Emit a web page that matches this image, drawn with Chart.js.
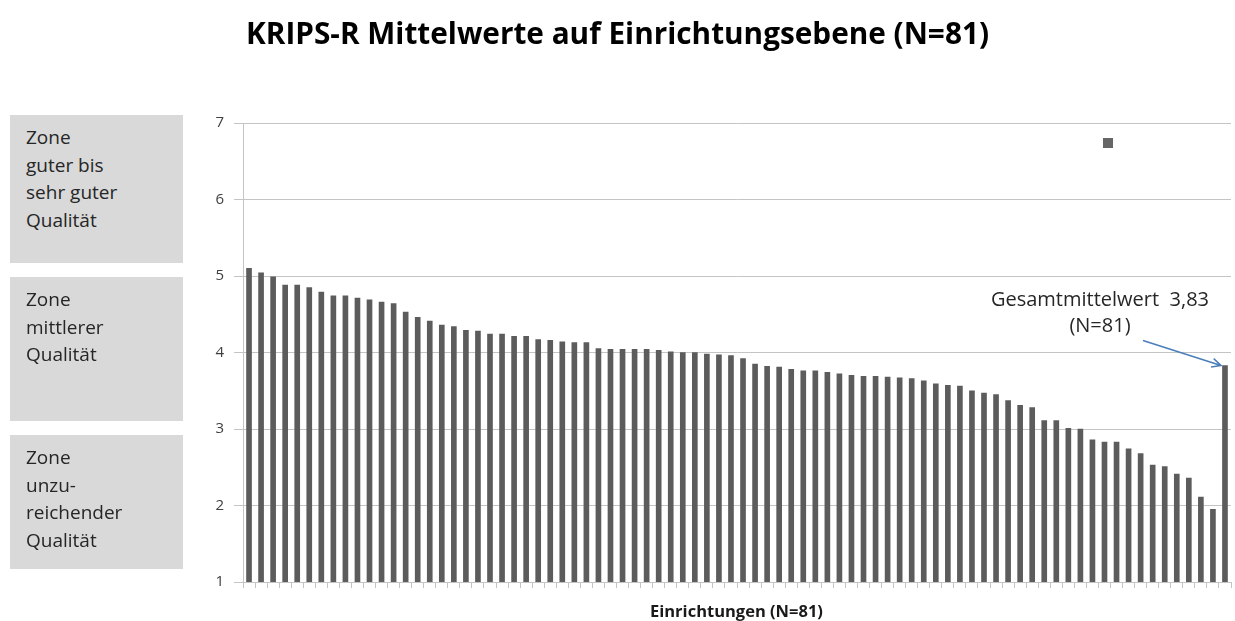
<!DOCTYPE html>
<html>
<head>
<meta charset="utf-8">
<title>KRIPS-R Mittelwerte</title>
<script src="https://cdn.jsdelivr.net/npm/chart.js@4.4.1/dist/chart.umd.min.js"></script>
<style>
  html, body { margin: 0; padding: 0; background: #fff; }
  body { width: 1235px; height: 621px; position: relative; overflow: hidden; font-family: "Open Sans", sans-serif; }
  #chart { position: absolute; left: 0; top: 0; }
  #titel { position: absolute; left: 0; width: 1235px; text-align: center; margin: 0; font-weight: 700; line-height: 1; color: #000; white-space: nowrap; }
  #titel span { display: inline-block; }
  #xTitel { position: absolute; left: 650px; font-weight: 700; font-size: 16.5px; line-height: 1; color: #1a1a1a; white-space: nowrap; }
  .zone { position: absolute; left: 10px; width: 157px; padding: 8.8px 0 0 16px; box-sizing: content-box;
          background: #d9d9d9; color: #262626; font-size: 19px; line-height: 27.7px; }
</style>
</head>
<body>
<canvas id="chart" width="1235" height="621"></canvas>
<h1 id="titel"><span>KRIPS-R Mittelwerte auf Einrichtungsebene (N=81)</span></h1>
<div class="zone" style="top:115px;height:139.2px">Zone<br>guter bis<br>sehr guter<br>Qualität</div>
<div class="zone" style="top:277px;height:135.2px">Zone<br>mittlerer<br>Qualität</div>
<div class="zone" style="top:435px;height:125.2px">Zone<br>unzu-<br>reichender<br>Qualität</div>
<div id="xTitel">Einrichtungen (N=81)</div>
<script>
// Mittelwerte der 81 Einrichtungen, absteigend sortiert
const mittelwerte = [
  5.10, 5.04, 4.99, 4.88, 4.88, 4.85, 4.79, 4.74, 4.74, 4.71,
  4.69, 4.66, 4.64, 4.53, 4.46, 4.41, 4.36, 4.34, 4.29, 4.28,
  4.24, 4.24, 4.21, 4.21, 4.17, 4.16, 4.14, 4.13, 4.13, 4.05,
  4.04, 4.04, 4.04, 4.04, 4.03, 4.01, 4.00, 4.00, 3.98, 3.97,
  3.96, 3.92, 3.85, 3.82, 3.81, 3.78, 3.76, 3.76, 3.74, 3.72,
  3.70, 3.69, 3.69, 3.68, 3.67, 3.66, 3.63, 3.59, 3.57, 3.56,
  3.50, 3.47, 3.45, 3.37, 3.31, 3.28, 3.11, 3.11, 3.01, 3.00,
  2.86, 2.83, 2.83, 2.74, 2.68, 2.53, 2.51, 2.41, 2.36, 2.11,
  1.95
];
const gesamtmittelwert = 3.83;
const einrichtungen = mittelwerte.map((_, i) => 'Einrichtung ' + (i + 1));
const kategorien = [...einrichtungen, 'Gesamt'];
const yTicks = [1, 2, 3, 4, 5, 6, 7];

const gridGrau = '#c4c4c4';

// title: fit Open Sans to the width of the original heading
(function () {
  const t = document.getElementById('titel');
  const span = t.querySelector('span');
  let fs = 30;
  t.style.fontSize = fs + 'px';
  fs = fs * 743 / span.offsetWidth;
  t.style.fontSize = fs + 'px';
  t.style.top = (44 - 0.888 * fs) + 'px';
  document.getElementById('xTitel').style.top = (618 - 0.888 * 16.5) + 'px';
})();

// Hinweis auf den Gesamtmittelwert + einzelnes Legendenquadrat
const hinweisPlugin = {
  id: 'gesamtHinweis',
  afterDatasetsDraw(chart) {
    const { ctx, chartArea } = chart;
    const bar = chart.getDatasetMeta(0).data[kategorien.length - 1];
    ctx.save();
    ctx.font = '20px "Open Sans"';
    ctx.fillStyle = '#262626';
    ctx.textAlign = 'center';
    ctx.fillText('Gesamtmittelwert  3,83', bar.x - 125, bar.y - 60);
    ctx.fillText('(N=81)', bar.x - 125, bar.y - 34);

    // arrow
    const x0 = bar.x - 82, y0 = bar.y - 25;
    const x1 = bar.x - 4, y1 = bar.y;
    const ang = Math.atan2(y1 - y0, x1 - x0);
    ctx.strokeStyle = '#4a7ebb';
    ctx.lineWidth = 1.5;
    ctx.beginPath();
    ctx.moveTo(x0, y0);
    ctx.lineTo(x1, y1);
    ctx.moveTo(x1 - 10 * Math.cos(ang - 0.45), y1 - 10 * Math.sin(ang - 0.45));
    ctx.lineTo(x1, y1);
    ctx.lineTo(x1 - 10 * Math.cos(ang + 0.45), y1 - 10 * Math.sin(ang + 0.45));
    ctx.stroke();

    // lone legend marker
    ctx.fillStyle = '#666666';
    const sx = chartArea.left + chartArea.width * 0.8755;
    const sy = chartArea.top + 20;
    ctx.fillRect(sx - 5, sy - 5, 10, 10);
    ctx.restore();
  }
};

Chart.defaults.font.family = '"Open Sans", sans-serif';

new Chart(document.getElementById('chart'), {
  type: 'bar',
  data: {
    labels: kategorien,
    datasets: [{
      data: [...mittelwerte, gesamtmittelwert],
      backgroundColor: '#5c5c5c',
      borderWidth: 0,
      barThickness: 5
    }]
  },
  options: {
    responsive: false,
    animation: false,
    layout: { padding: { left: 180, right: 4, top: 123, bottom: 0 } },
    plugins: {
      legend: { display: false },
      title: { display: false },
      tooltip: { enabled: false }
    },
    scales: {
      x: {
        offset: true,
        grid: { display: true, offset: true, drawOnChartArea: false, drawTicks: true, tickLength: 6, color: gridGrau },
        border: { color: gridGrau },
        ticks: { display: false },
        afterFit(scale) { scale.height = 39; }
      },
      y: {
        min: 1,
        max: 7,
        afterBuildTicks(scale) { scale.ticks = yTicks.map(v => ({ value: v })); },
        grid: { color: gridGrau, tickLength: 9 },
        border: { color: gridGrau },
        ticks: { padding: 10, color: '#404040', font: { size: 15 } },
        afterFit(scale) { scale.width = 63; }
      }
    }
  },
  plugins: [hinweisPlugin]
});
</script>
</body>
</html>
